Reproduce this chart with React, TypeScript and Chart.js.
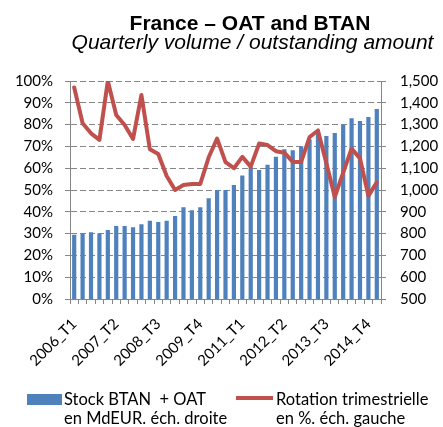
import React, { useEffect, useRef } from "react";
import { Chart, registerables } from "chart.js";

Chart.register(...registerables);

const categories: string[] = [
  "2006_T1", "2006_T2", "2006_T3", "2006_T4",
  "2007_T1", "2007_T2", "2007_T3", "2007_T4",
  "2008_T1", "2008_T2", "2008_T3", "2008_T4",
  "2009_T1", "2009_T2", "2009_T3", "2009_T4",
  "2010_T1", "2010_T2", "2010_T3", "2010_T4",
  "2011_T1", "2011_T2", "2011_T3", "2011_T4",
  "2012_T1", "2012_T2", "2012_T3", "2012_T4",
  "2013_T1", "2013_T2", "2013_T3", "2013_T4",
  "2014_T1", "2014_T2", "2014_T3", "2014_T4",
  "2015_T1",
];

// Stock BTAN + OAT, MdEUR (right axis)
const stockValues: number[] = [
  795, 801, 806, 801, 816, 835, 835, 829, 843, 859,
  853, 859, 881, 921, 907, 921, 962, 1000, 1000, 1023,
  1066, 1104, 1092, 1116, 1152, 1187, 1182, 1201, 1232, 1258,
  1248, 1262, 1299, 1329, 1317, 1335, 1372,
];

// Rotation trimestrielle, % (left axis)
const rotationValues: number[] = [
  97, 80.6, 76, 73, 100, 84.4, 79.8, 73.4, 93.6, 68.7,
  66.5, 56.4, 50, 52.3, 52.8, 52.8, 65, 73.6, 62.8, 60,
  65.2, 60.7, 71.3, 70.6, 67.8, 67.1, 62.9, 62.9, 74.3, 77.3,
  62.3, 46.8, 58, 69, 64.5, 47.3, 53.5,
];

const leftTickSuffix = "%";
const stockLabel = ["Stock BTAN  + OAT", "en MdEUR. éch. droite"];
const rotationLabel = ["Rotation trimestrielle", "en %. éch. gauche"];
const titleText = "France – OAT and BTAN";
const subtitleText = "Quarterly volume / outstanding amount";

const BLUE = "#4F81BD";
const RED = "#C0504D";
const AXIS = "#868686";
const FONT = "Lato, 'Liberation Sans', sans-serif";

export default function App() {
  const canvasRef = useRef<HTMLCanvasElement | null>(null);

  useEffect(() => {
    const canvas = canvasRef.current;
    if (!canvas) return;
    const chart = new Chart(canvas, {
      type: "bar",
      data: {
        labels: categories,
        datasets: [
          {
            type: "line",
            label: rotationLabel.join(" "),
            data: rotationValues,
            yAxisID: "y",
            borderColor: RED,
            backgroundColor: RED,
            borderWidth: 4,
            pointRadius: 0,
            tension: 0,
            borderJoinStyle: "round",
            borderCapStyle: "round",
            order: 0,
          } as any,
          {
            type: "bar",
            label: stockLabel.join(" "),
            data: stockValues,
            yAxisID: "y1",
            backgroundColor: BLUE,
            barPercentage: 0.5,
            categoryPercentage: 1,
            order: 1,
          },
        ],
      },
      options: {
        animation: false,
        responsive: false,
        maintainAspectRatio: false,
        devicePixelRatio: 1,
        layout: { padding: { top: 81, left: 0, right: 0, bottom: 0 } },
        plugins: {
          legend: { display: false },
          tooltip: { enabled: false },
        },
        scales: {
          x: {
            type: "category",
            offset: true,
            grid: {
              offset: true,
              drawOnChartArea: false,
              drawTicks: true,
              tickLength: 5,
              color: AXIS,
            },
            border: { display: true, color: AXIS, width: 1 },
            ticks: {
              autoSkip: false,
              maxRotation: 45,
              minRotation: 45,
              padding: 11,
              color: "#000",
              font: { family: FONT, size: 15 },
              callback: (_v: any, i: number) => (i % 5 === 0 ? categories[i] : ""),
            },
            afterFit: (scale: any) => {
              scale.height = 128;
            },
          },
          y: {
            type: "linear",
            position: "left",
            min: 0,
            max: 100,
            grid: {
              color: AXIS,
              lineWidth: 1,
              tickLength: 5,
              tickBorderDash: [],
            },
            border: { display: true, color: AXIS, width: 1, dash: [6, 3] },
            ticks: {
              stepSize: 10,
              padding: 12,
              color: "#000",
              font: { family: FONT, size: 15 },
              callback: (v: any) => `${v}${leftTickSuffix}`,
            },
            afterFit: (scale: any) => {
              scale.width = 70;
            },
          },
          y1: {
            type: "linear",
            position: "right",
            min: 500,
            max: 1500,
            beginAtZero: false,
            grid: {
              drawOnChartArea: false,
              color: AXIS,
              tickLength: 5,
            },
            border: { display: true, color: AXIS, width: 1 },
            ticks: {
              stepSize: 100,
              padding: 14,
              color: "#000",
              font: { family: FONT, size: 15 },
              callback: (v: any) => Number(v).toLocaleString("en-US"),
            },
            afterFit: (scale: any) => {
              scale.width = 62;
            },
          },
        },
      },
    });
    return () => chart.destroy();
  }, []);

  const legendText: React.CSSProperties = {
    position: "absolute",
    fontFamily: FONT,
    fontSize: 16.5,
    lineHeight: "19px",
    color: "#000",
    whiteSpace: "pre",
  };

  return (
    <div
      style={{
        position: "fixed",
        left: 0,
        top: 0,
        width: 443,
        height: 427,
        background: "#fff",
        overflow: "hidden",
      }}
    >
      <canvas
        ref={canvasRef}
        width={443}
        height={427}
        style={{ position: "absolute", left: 0, top: 0, width: 443, height: 427 }}
      />
      <div
        style={{
          position: "absolute",
          left: 0,
          top: 12,
          width: 500,
          textAlign: "center",
          fontFamily: "'Liberation Sans', Arial, sans-serif",
          fontWeight: "bold",
          fontSize: 21,
          lineHeight: "21px",
          color: "#000",
          whiteSpace: "nowrap",
        }}
      >
        {titleText}
      </div>
      <div
        style={{
          position: "absolute",
          left: 0,
          top: 31,
          width: 505,
          textAlign: "center",
          fontFamily: "'Liberation Sans', Arial, sans-serif",
          fontStyle: "italic",
          fontSize: 21,
          lineHeight: "21px",
          color: "#000",
          whiteSpace: "nowrap",
        }}
      >
        {subtitleText}
      </div>
      <div style={{ position: "absolute", left: 27, top: 394, width: 35, height: 11, background: BLUE }} />
      <div style={{ ...legendText, left: 64, top: 390 }}>
        {stockLabel[0]}
        {"\n"}
        {stockLabel[1]}
      </div>
      <div style={{ position: "absolute", left: 236, top: 396, width: 37, height: 4, background: RED }} />
      <div style={{ ...legendText, left: 276, top: 390 }}>
        {rotationLabel[0]}
        {"\n"}
        {rotationLabel[1]}
      </div>
    </div>
  );
}
